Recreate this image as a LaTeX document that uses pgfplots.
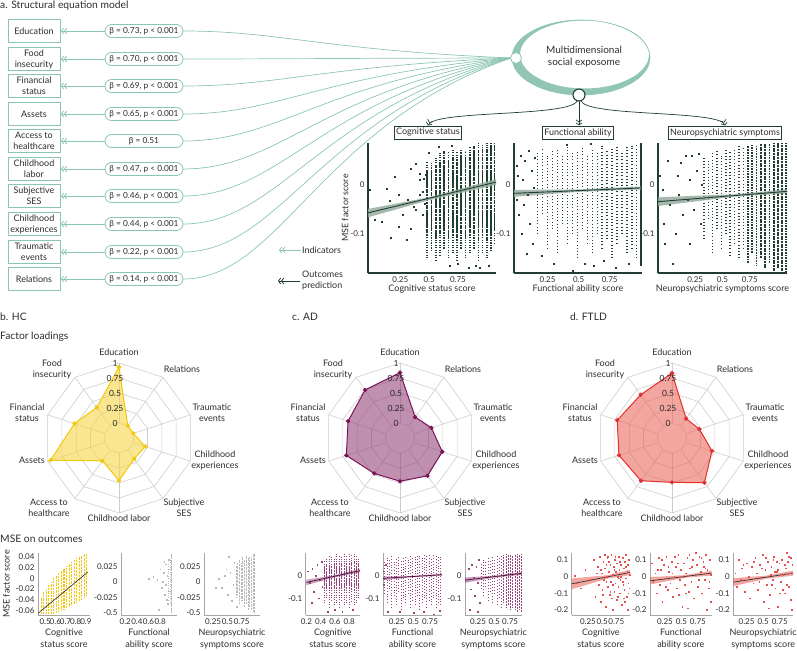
\documentclass[border=0pt]{standalone}
\usepackage{fontspec}
\setmainfont{Lato}
\usepackage{pgfplots}
\usepackage{pgfplotstable}
\pgfplotsset{compat=1.18}
\usetikzlibrary{arrows.meta}

\definecolor{semteal}{RGB}{140,198,178}
\definecolor{semfill}{RGB}{146,198,180}
\definecolor{dkg}{RGB}{32,62,48}
\definecolor{bandg}{RGB}{150,172,160}
\definecolor{txt}{RGB}{45,45,45}
\definecolor{gridg}{RGB}{205,205,205}
\definecolor{hcy}{RGB}{243,200,10}
\definecolor{hcfill}{RGB}{246,214,70}
\definecolor{adp}{RGB}{125,20,90}
\definecolor{adfill}{RGB}{150,70,125}
\definecolor{ftr}{RGB}{228,48,44}
\definecolor{ftfill}{RGB}{235,105,95}
\definecolor{greypt}{RGB}{185,185,185}

\newcommand\ftick{\fontsize{8}{9}\selectfont}
\newcommand\flab{\fontsize{9}{11}\selectfont}
\newcommand\fbeta{\fontsize{8.3}{10}\selectfont}
\newcommand\ftitle{\fontsize{10.3}{12}\selectfont}

\tikzset{dchev/.style={-{Straight Barb[length=2.2pt,width=6pt] Straight Barb[length=2.2pt,width=6pt]}}}

\pgfplotsset{
  sc/.style={scale only axis, clip=false, anchor=south west, axis lines=left,
    axis line style={-}, tick style={draw=none}, major tick length=0pt,
    ticklabel style={font=\ftick, text=txt}, label style={font=\flab, text=txt},
    scaled ticks=false},
  sm/.style={sc, height=62pt, axis line style={-, draw=gray!70, line width=0.6pt},
    xlabel style={align=center, yshift=2pt, font=\fontsize{9}{11.5}\selectfont}},
  big/.style={sc, height=130pt, ymin=-0.18, ymax=0.086,
    axis line style={-, draw=dkg, line width=1.1pt},
    xtick={0.25,0.5,0.75}, xticklabels={0.25,0.5,0.75},
    ytick={-0.1,0}, yticklabels={-0.1,0}, xlabel style={yshift=4pt}},
  rad/.style={hide axis, scale only axis, width=156pt, height=156pt, xmin=-1.3, xmax=1.3,
    ymin=-1.3, ymax=1.3, anchor=center, clip=false},
  colsty/.style n args={3}{draw=none, mark=none, forget plot, error bars/.cd,
    y dir=plus, y explicit, error mark=none,
    error bar style={draw=#1, line width=#2, dash pattern=#3}},
}

\begin{document}

% ---------- panel a: scatter data ----------
\pgfplotstableread{
x lo hi clo chi
0.483 -0.150 0.048 -0.105 0.030
0.520 -0.135 0.045 -0.095 0.028
0.557 -0.155 0.055 -0.110 0.040
0.594 -0.145 0.065 -0.100 0.048
0.631 -0.130 0.070 -0.098 0.052
0.668 -0.150 0.068 -0.110 0.050
0.705 -0.140 0.072 -0.105 0.055
0.742 -0.155 0.070 -0.112 0.058
0.779 -0.130 0.074 -0.100 0.060
0.816 -0.150 0.070 -0.110 0.058
0.853 -0.140 0.078 -0.105 0.065
0.890 -0.130 0.080 -0.100 0.070
0.927 -0.155 0.086 -0.115 0.072
0.964 -0.140 0.084 -0.105 0.075
1.000 -0.150 0.086 -0.115 0.078
1.035 -0.135 0.086 -0.105 0.080
1.068 -0.120 0.086 -0.095 0.082
}\colAa
\pgfplotstableread{
x y
-0.013 -0.010
0.024 -0.071
0.088 -0.075
0.131 -0.007
0.160 -0.033
0.169 -0.108
0.203 0.017
0.240 -0.019
0.238 -0.085
0.275 -0.061
0.304 -0.112
0.313 -0.031
0.342 0.034
0.342 -0.090
0.362 -0.044
0.385 0.044
0.414 0.024
0.414 -0.020
0.414 0.010
0.385 -0.051
0.448 -0.014
0.448 -0.060
0.455 0.012
0.462 -0.038
0.470 0.022
0.612 -0.179
0.680 -0.165
0.750 -0.160
0.900 -0.165
0.940 -0.170
1.020 -0.165
0.580 0.078
0.700 0.080
0.500 0.066
0.840 -0.170
}\ptAa

\pgfplotstableread{
x lo hi
0.17 -0.100 0.070
0.21 -0.060 0.075
0.25 -0.130 0.060
0.29 -0.090 0.070
0.33 -0.140 0.075
0.37 -0.080 0.060
0.41 -0.120 0.078
0.45 -0.100 0.065
0.49 -0.150 0.070
0.53 -0.090 0.080
0.57 -0.120 0.060
0.61 -0.140 0.075
0.65 -0.100 0.070
0.69 -0.130 0.080
0.73 -0.110 0.070
0.77 -0.150 0.075
0.81 -0.120 0.080
0.85 -0.100 0.070
0.89 -0.140 0.082
0.93 -0.130 0.080
0.965 -0.150 0.083
}\colAb
\pgfplotstableread{
x y
0.00 0.040
0.00 -0.030
0.01 0.020
0.02 -0.060
0.03 0.060
0.04 -0.100
0.05 0.010
0.06 -0.040
0.07 0.050
0.08 -0.140
0.09 -0.020
0.10 0.070
0.11 -0.080
0.12 0.030
0.13 -0.120
0.14 -0.005
0.15 0.055
0.30 -0.160
0.45 -0.175
0.62 -0.165
0.70 -0.155
0.80 -0.170
0.90 -0.160
0.20 -0.145
0.55 -0.160
0.40 0.082
0.60 0.084
}\ptAb

\pgfplotstableread{
x lo hi
0.33 -0.110 0.060
0.37 -0.070 0.050
0.41 -0.140 0.065
0.45 -0.090 0.070
0.49 -0.130 0.060
0.53 -0.100 0.075
0.57 -0.145 0.070
0.61 -0.120 0.075
0.65 -0.150 0.080
0.69 -0.130 0.075
}\colAc
\pgfplotstableread{
x lo hi
0.73 -0.160 0.080
0.77 -0.140 0.082
0.81 -0.165 0.080
0.85 -0.150 0.085
0.89 -0.170 0.084
0.93 -0.160 0.085
0.97 -0.175 0.086
1.01 -0.170 0.086
1.045 -0.175 0.086
1.08 -0.178 0.086
}\colAcd
\pgfplotstableread{
x y
-0.07 0.020
-0.05 -0.010
-0.04 -0.080
-0.03 -0.120
0.00 0.050
0.02 -0.040
0.04 -0.160
0.07 -0.100
0.09 0.020
0.10 -0.020
0.12 0.045
0.14 -0.060
0.16 0.060
0.18 -0.030
0.20 -0.120
0.22 0.060
0.24 -0.050
0.26 0.030
0.28 0.065
0.30 -0.080
0.31 0.000
0.20 0.010
}\ptAc

% ---------- radar data ----------
\pgfplotstableread{
a v
90 0.93
54 0.00
18 0.00
-18 0.21
-54 0.18
-90 0.46
-126 0.22
-162 0.95
162 0.53
126 0.38
90 0.93
}\radHC
\pgfplotstableread{
a v
90 0.84
54 0.18
18 0.30
-18 0.49
-54 0.53
-90 0.47
-126 0.48
-162 0.69
162 0.66
126 0.74
90 0.84
}\radAD
\pgfplotstableread{
a v
90 0.83
54 0.15
18 0.23
-18 0.45
-54 0.67
-90 0.49
-126 0.63
-162 0.68
162 0.71
126 0.64
90 0.83
}\radFT

% ---------- bottom row data ----------
\pgfplotstableread{
x lo hi
0.460 -0.066 -0.035
0.485 -0.066 -0.025
0.510 -0.066 -0.020
0.535 -0.066 -0.012
0.560 -0.066 -0.006
0.585 -0.066 0.000
0.610 -0.064 0.005
0.635 -0.062 0.010
0.660 -0.060 0.014
0.685 -0.058 0.018
0.710 -0.055 0.022
0.735 -0.052 0.026
0.760 -0.050 0.030
0.785 -0.048 0.034
0.810 -0.045 0.037
0.835 -0.042 0.040
0.860 -0.040 0.043
0.885 -0.036 0.045
0.910 -0.032 0.046
}\colHa
\pgfplotstableread{
x y
0.68 0.008
0.75 0.004
0.80 0.020
0.82 -0.010
0.85 0.000
0.86 0.015
0.88 -0.020
0.90 0.028
0.90 -0.005
0.92 0.010
0.93 -0.035
0.95 0.035
0.95 -0.015
0.78 -0.045
0.60 0.005
0.96 0.020
0.87 0.032
0.91 -0.028
}\ptHb
\pgfplotstableread{
x lo hi
0.98 -0.050 0.045
0.95 -0.048 0.044
0.92 -0.045 0.040
0.89 -0.040 0.040
0.86 -0.045 0.038
0.83 -0.035 0.042
0.80 -0.040 0.035
0.77 -0.030 0.040
0.74 -0.030 0.030
0.71 -0.035 0.035
0.68 -0.020 0.030
0.65 -0.025 0.025
}\colHc
\pgfplotstableread{
x y
0.35 0.005
0.40 -0.010
0.45 0.010
0.50 -0.020
0.55 0.015
0.60 -0.005
0.62 0.030
0.58 -0.030
0.48 0.020
0.30 -0.010
0.52 0.040
0.66 -0.040
}\ptHc

\pgfplotstableread{
x lo hi clo chi
0.450 -0.120 0.070 -0.060 0.045
0.485 -0.100 0.080 -0.055 0.050
0.520 -0.140 0.085 -0.065 0.048
0.555 -0.110 0.090 -0.060 0.052
0.590 -0.130 0.080 -0.058 0.050
0.625 -0.120 0.095 -0.065 0.055
0.660 -0.140 0.090 -0.060 0.050
0.695 -0.110 0.085 -0.055 0.055
0.730 -0.130 0.095 -0.062 0.058
0.765 -0.120 0.090 -0.060 0.055
0.800 -0.140 0.095 -0.065 0.058
0.835 -0.115 0.090 -0.058 0.055
0.870 -0.130 0.095 -0.062 0.060
0.905 -0.120 0.090 -0.060 0.058
0.935 -0.100 0.080 -0.055 0.055
}\colDa
\pgfplotstableread{
x y
0.25 -0.030
0.28 0.030
0.30 -0.070
0.33 0.000
0.35 0.050
0.37 -0.100
0.39 -0.020
0.41 0.060
0.42 -0.050
0.27 -0.120
0.22 0.020
0.60 -0.150
0.70 -0.160
0.85 -0.150
0.50 -0.160
}\ptDa
\pgfplotstableread{
x lo hi
0.070 -0.080 0.060
0.105 -0.120 0.080
0.140 -0.060 0.070
0.175 -0.140 0.090
0.210 -0.090 0.060
0.245 -0.130 0.080
0.280 -0.070 0.090
0.315 -0.150 0.070
0.350 -0.100 0.085
0.385 -0.120 0.090
0.420 -0.080 0.070
0.455 -0.140 0.090
0.490 -0.110 0.080
0.525 -0.130 0.090
0.560 -0.090 0.085
0.595 -0.150 0.090
0.630 -0.120 0.080
0.665 -0.100 0.090
0.700 -0.140 0.085
0.735 -0.110 0.090
0.770 -0.130 0.080
0.805 -0.100 0.090
0.840 -0.140 0.085
0.875 -0.120 0.090
0.910 -0.130 0.090
}\colDb
\pgfplotstableread{
x y
0.05 0.020
0.06 -0.040
0.09 0.050
0.12 -0.160
0.30 -0.160
0.50 -0.165
0.65 -0.160
0.80 -0.170
0.90 -0.155
}\ptDb
\pgfplotstableread{
x lo hi
0.300 -0.060 0.050
0.335 -0.090 0.070
0.370 -0.050 0.060
0.405 -0.110 0.080
0.440 -0.070 0.065
0.475 -0.120 0.085
0.510 -0.080 0.070
0.545 -0.130 0.090
0.580 -0.100 0.080
0.615 -0.140 0.090
}\colDc
\pgfplotstableread{
x lo hi
0.650 -0.120 0.090
0.685 -0.140 0.095
0.720 -0.130 0.090
0.755 -0.150 0.095
0.790 -0.140 0.090
0.825 -0.150 0.095
0.860 -0.160 0.095
0.895 -0.150 0.090
0.925 -0.160 0.095
}\colDcd
\pgfplotstableread{
x y
0.08 -0.020
0.10 0.030
0.13 -0.060
0.15 0.050
0.18 -0.010
0.20 -0.090
0.22 0.040
0.24 -0.030
0.26 0.070
0.28 -0.120
0.12 -0.150
0.25 -0.160
}\ptDc

\pgfplotstableread{
x y
0.02 0.005
0.05 -0.040
0.12 -0.070
0.20 0.040
0.30 -0.020
0.35 0.100
0.38 -0.120
0.42 0.060
0.44 -0.050
0.46 0.120
0.47 -0.150
0.49 0.020
0.50 -0.080
0.52 0.090
0.53 -0.020
0.55 0.050
0.56 -0.180
0.58 0.000
0.59 0.110
0.60 -0.060
0.61 0.030
0.63 -0.110
0.64 0.070
0.65 -0.030
0.66 0.130
0.68 -0.200
0.69 0.010
0.70 0.060
0.71 -0.090
0.72 0.100
0.73 -0.040
0.74 0.030
0.75 -0.140
0.76 0.080
0.77 0.000
0.78 -0.060
0.79 0.120
0.80 0.040
0.81 -0.100
0.82 -0.020
0.83 0.070
0.84 -0.170
0.85 0.020
0.86 0.110
0.87 -0.050
0.88 0.050
0.89 -0.080
0.90 0.090
0.91 -0.010
0.92 0.130
0.93 -0.120
0.94 0.030
0.95 0.070
0.96 -0.040
0.97 0.100
0.975 -0.070
0.98 0.010
0.62 0.090
0.67 -0.130
0.54 0.130
0.57 -0.030
0.73 0.120
0.83 0.000
0.90 -0.150
0.95 -0.200
0.48 0.040
0.51 -0.110
0.57 0.070
0.64 -0.090
0.71 0.040
0.77 -0.120
0.81 0.090
0.86 -0.030
0.92 0.060
0.96 -0.100
0.60 0.120
0.69 -0.050
0.79 -0.010
0.88 -0.130
0.40 0.020
}\ptFa
\pgfplotstableread{
x y
0.05 0.080
0.07 -0.030
0.10 0.020
0.12 -0.100
0.15 0.110
0.17 -0.050
0.19 0.040
0.21 -0.150
0.23 0.070
0.25 -0.010
0.27 0.120
0.29 -0.080
0.31 0.030
0.33 -0.040
0.35 0.090
0.37 -0.120
0.39 0.000
0.41 0.060
0.43 -0.070
0.45 0.130
0.47 -0.020
0.49 0.040
0.51 -0.180
0.53 0.080
0.55 -0.050
0.57 0.020
0.59 0.110
0.61 -0.090
0.63 0.050
0.65 -0.030
0.67 0.100
0.69 -0.130
0.71 0.010
0.73 0.070
0.75 -0.060
0.77 0.120
0.79 0.030
0.81 -0.100
0.83 0.090
0.85 -0.020
0.87 0.130
0.89 0.040
0.91 -0.070
0.93 0.100
0.95 0.010
0.94 -0.150
0.88 -0.200
0.60 -0.190
0.40 0.120
0.30 0.060
0.72 0.140
0.52 0.000
0.84 0.060
0.20 0.100
0.62 0.130
0.46 -0.110
0.14 0.040
0.26 -0.060
0.36 0.020
0.44 0.080
0.56 -0.100
0.66 0.060
0.76 -0.020
0.86 0.050
0.92 -0.030
0.80 0.110
}\ptFb
\pgfplotstableread{
x y
0.08 0.020
0.10 -0.060
0.13 0.100
0.16 -0.020
0.18 0.050
0.22 -0.090
0.25 0.080
0.28 0.000
0.30 -0.130
0.33 0.060
0.35 -0.040
0.38 0.110
0.40 0.020
0.42 -0.080
0.45 0.070
0.47 -0.010
0.49 0.130
0.51 -0.150
0.53 0.040
0.55 -0.050
0.57 0.090
0.59 0.000
0.60 -0.110
0.62 0.060
0.64 -0.020
0.66 0.120
0.68 -0.070
0.70 0.030
0.72 -0.180
0.74 0.080
0.76 -0.030
0.78 0.100
0.80 0.010
0.82 -0.100
0.84 0.050
0.86 -0.050
0.88 0.120
0.90 0.020
0.92 -0.140
0.94 0.070
0.93 -0.200
0.85 0.140
0.65 0.100
0.58 -0.190
0.48 0.050
0.36 0.090
0.72 0.040
0.79 -0.080
0.87 0.090
0.63 -0.050
0.20 0.070
0.91 0.110
0.44 -0.030
0.54 0.110
0.67 0.030
0.75 -0.100
0.83 0.070
0.89 -0.060
0.70 0.090
0.61 0.010
}\ptFc

\begin{tikzpicture}[x=1pt,y=1pt]
\useasboundingbox (0pt,0pt) rectangle (797pt,-650pt);

% ---------- titles ----------
\begin{scope}[every node/.style={anchor=west, inner sep=0pt, font=\ftitle, text=txt}]
\node at (0,-6) {a. Structural equation model};
\node at (0,-317) {b. HC};
\node at (292,-317) {c. AD};
\node at (570,-317) {d. FTLD};
\node at (0,-337) {Factor loadings};
\node at (0,-539) {MSE on outcomes};
\end{scope}

% ---------- SEM ----------
\foreach \y/\lab/\bt in {31/Education/{β = 0.73, p < 0.001},
    59/{Food\\insecurity}/{β = 0.70, p < 0.001},
    86/{Financial\\status}/{β = 0.69, p < 0.001},
    114/Assets/{β = 0.65, p < 0.001},
    141/{Access to\\healthcare}/{β = 0.51},
    169/{Childhood\\labor}/{β = 0.47, p < 0.001},
    196/{Subjective\\SES}/{β = 0.46, p < 0.001},
    224/{Childhood\\experiences}/{β = 0.44, p < 0.001},
    252/{Traumatic\\events}/{β = 0.22, p < 0.001},
    279/Relations/{β = 0.14, p < 0.001}}{
  \draw[semteal, line width=0.7pt] (183,-\y) .. controls (280,-\y) and (320,{-(58+(\y-58)*0.3)}) .. (511,-58);
  \draw[semteal, line width=0.8pt] (8,{-\y+11.5}) rectangle (60,{-\y-11.5});
  \node[align=center, font=\flab, text=txt, inner sep=0pt] at (34,-\y) {\lab};
  \draw[semteal, line width=0.8pt, dchev] (105,-\y) -- (61,-\y);
  \node[draw=semteal, fill=white, line width=0.8pt, rounded corners=6.5pt, minimum width=78pt,
        minimum height=13pt, inner sep=0pt, font=\fbeta, text=txt] at (144,-\y) {\bt};
}

\fill[semfill, even odd rule] (581,-57.5) ellipse [x radius=69pt, y radius=37.5pt]
  (584.5,-54.5) ellipse [x radius=64.5pt, y radius=34pt];
\draw[semteal, line width=0.6pt] (581,-57.5) ellipse [x radius=69pt, y radius=37.5pt];
\node[align=center, font=\fontsize{10}{12}\selectfont, text=txt] at (584,-57) {Multidimensional\\social exposome};
\draw[semteal, fill=white, line width=0.8pt] (516,-58) circle [radius=5.5pt];

\draw[dkg, line width=0.7pt, dchev] (577,-101) .. controls (570,-117) and (435,-110) .. (428,-125.5);
\draw[dkg, line width=0.7pt, dchev] (579,-101) -- (579,-125.5);
\draw[dkg, line width=0.7pt, dchev] (581,-101) .. controls (588,-117) and (720,-110) .. (725,-125.5);
\draw[dkg, fill=white, line width=1.1pt] (579,-95) circle [radius=6pt];

\begin{scope}[every node/.style={draw=dkg, line width=0.8pt, inner sep=1.5pt, minimum height=13pt, font=\flab, text=txt}]
\node at (428,-132.5) {Cognitive status};
\node at (578,-132.5) {Functional ability};
\node at (725,-132.5) {Neuropsychiatric symptoms};
\end{scope}

\draw[semteal, line width=0.8pt, dchev] (301,-250) -- (279,-250);
\node[anchor=west, font=\flab, text=txt, inner sep=0pt] at (302,-250) {Indicators};
\draw[dkg, line width=0.8pt, dchev] (300,-281) -- (278,-281);
\node[anchor=west, align=left, font=\flab, text=txt, inner sep=0pt] at (302,-281) {Outcomes\\prediction};

% ---------- panel a scatter ----------
\begin{axis}[big, at={(368pt,-273pt)}, width=128pt, xmin=-0.03, xmax=1.08,
  xlabel={Cognitive status score}, ylabel={MSE factor score}, ylabel style={yshift=-5pt}]
\addplot[colsty={dkg}{1.7pt}{on 1.1pt off 1.4pt}] table[x=x, y=lo, y error plus expr={\thisrow{hi}-\thisrow{lo}}] {\colAa};
\addplot[colsty={dkg}{1.7pt}{on 1.2pt off 0.4pt}] table[x=x, y=clo, y error plus expr={\thisrow{chi}-\thisrow{clo}}] {\colAa};
\addplot[only marks, mark=square*, mark size=0.5pt, dkg] table {\ptAa};
\addplot[fill=bandg, draw=none, fill opacity=0.85] coordinates {(-0.03,-0.066) (0.5,-0.031) (1.08,0.0) (1.08,0.012) (0.5,-0.025) (-0.03,-0.049)} -- cycle;
\addplot[dkg, line width=0.9pt] coordinates {(-0.03,-0.057) (1.08,0.006)};
\end{axis}

\begin{axis}[big, at={(514pt,-273pt)}, width=128pt, xmin=-0.02, xmax=1.01,
  xlabel={Functional ability score}]
\addplot[colsty={dkg}{1.5pt}{on 1pt off 2.2pt}] table[x=x, y=lo, y error plus expr={\thisrow{hi}-\thisrow{lo}}] {\colAb};
\addplot[colsty={dkg}{1.8pt}{on 1.2pt off 0.3pt}] coordinates {(1.0,-0.165) +- (0,0.25)};
\addplot[only marks, mark=square*, mark size=0.5pt, dkg] table {\ptAb};
\addplot[fill=bandg, draw=none, fill opacity=0.85] coordinates {(-0.02,-0.024) (0.5,-0.014) (1.0,-0.009) (1.0,-0.003) (0.5,-0.009) (-0.02,-0.010)} -- cycle;
\addplot[dkg, line width=0.9pt] coordinates {(-0.02,-0.017) (1.0,-0.006)};
\end{axis}

\begin{axis}[big, at={(658pt,-273pt)}, width=129pt, xmin=-0.09, xmax=1.09,
  xlabel={Neuropsychiatric symptoms score}]
\addplot[colsty={dkg}{1.5pt}{on 1pt off 2.2pt}] table[x=x, y=lo, y error plus expr={\thisrow{hi}-\thisrow{lo}}] {\colAc};
\addplot[colsty={dkg}{1.7pt}{on 1.1pt off 0.5pt}] table[x=x, y=lo, y error plus expr={\thisrow{hi}-\thisrow{lo}}] {\colAcd};
\addplot[only marks, mark=square*, mark size=0.5pt, dkg] table {\ptAc};
\addplot[fill=bandg, draw=none, fill opacity=0.85] coordinates {(-0.09,-0.043) (0.6,-0.024) (1.09,-0.017) (1.09,-0.009) (0.6,-0.019) (-0.09,-0.025)} -- cycle;
\addplot[dkg, line width=0.9pt] coordinates {(-0.09,-0.034) (1.09,-0.013)};
\end{axis}

% ---------- radar grids ----------
\foreach \cx in {119,400,672}{
  \foreach \r in {15,30,45,60,75}{
    \draw[gridg, line width=0.6pt, shift={(\cx,-438)}] (90:\r) -- (54:\r) -- (18:\r) -- (-18:\r) -- (-54:\r)
      -- (-90:\r) -- (-126:\r) -- (-162:\r) -- (162:\r) -- (126:\r) -- cycle;
  }
  \foreach \a in {90,54,18,-18,-54,-90,-126,-162,162,126}{
    \draw[gridg, line width=0.6pt, shift={(\cx,-438)}] (\a:15) -- (\a:75);
  }
}

\begin{axis}[rad, at={(119pt,-438pt)}]
\addplot[draw=hcy, line width=1pt, fill=hcfill, fill opacity=0.6, mark=*, mark size=1.6pt,
  mark options={fill opacity=1, fill=hcy, draw=hcy}]
  table[x expr={(\thisrow{v}+0.25)*cos(\thisrow{a})}, y expr={(\thisrow{v}+0.25)*sin(\thisrow{a})}] {\radHC};
\end{axis}
\begin{axis}[rad, at={(400pt,-438pt)}]
\addplot[draw=adp, line width=1pt, fill=adfill, fill opacity=0.6, mark=*, mark size=1.6pt,
  mark options={fill opacity=1, fill=adp, draw=adp}]
  table[x expr={(\thisrow{v}+0.25)*cos(\thisrow{a})}, y expr={(\thisrow{v}+0.25)*sin(\thisrow{a})}] {\radAD};
\end{axis}
\begin{axis}[rad, at={(672pt,-438pt)}]
\addplot[draw=ftr, line width=1pt, fill=ftfill, fill opacity=0.6, mark=*, mark size=1.6pt,
  mark options={fill opacity=1, fill=ftr, draw=ftr}]
  table[x expr={(\thisrow{v}+0.25)*cos(\thisrow{a})}, y expr={(\thisrow{v}+0.25)*sin(\thisrow{a})}] {\radFT};
\end{axis}

\foreach \cx in {119,400,672}{
  \foreach \r/\t in {15/0,30/0.25,45/0.5,60/0.75,75/1}{
    \node[font=\fontsize{8.5}{10}\selectfont, text=txt, inner sep=0pt] at (\cx-4,{-438+\r}) {\t};
  }
  \begin{scope}[every node/.style={align=center, font=\flab, text=txt, inner sep=0pt}]
  \node at (\cx,-352) {Education};
  \node at (\cx+63,-369) {Relations};
  \node at (\cx+93,-413) {Traumatic\\events};
  \node at (\cx+96,-460) {Childhood\\experiences};
  \node at (\cx+65,-508) {Subjective\\SES};
  \node at (\cx,-518) {Childhood labor};
  \node at (\cx-70,-508) {Access to\\healthcare};
  \node at (\cx-87,-460) {Assets};
  \node at (\cx-92,-413) {Financial\\status};
  \node at (\cx-67,-369) {Food\\insecurity};
  \end{scope}
}

% ---------- bottom: HC ----------
\begin{axis}[sm, at={(38pt,-615pt)}, width=52pt, xmin=0.43, xmax=0.94, ymin=-0.068, ymax=0.047,
  xtick={0.5,0.6,0.7,0.8,0.9}, xticklabels={0.5,0.6,0.7,0.8,0.9},
  ytick={-0.06,-0.04,-0.02,0,0.02,0.04}, yticklabels={-0.06,-0.04,-0.02,0,0.02,0.04},
  xlabel={Cognitive\\status score}, ylabel={MSE factor score}, ylabel style={yshift=-1pt}]
\addplot[colsty={hcy}{1.1pt}{on 0.9pt off 0.5pt}] table[x=x, y=lo, y error plus expr={\thisrow{hi}-\thisrow{lo}}] {\colHa};
\addplot[black!85, line width=0.6pt] coordinates {(0.43,-0.065) (0.92,0.012)};
\end{axis}

\begin{axis}[sm, at={(121pt,-615pt)}, width=56pt, xmin=0.126, xmax=1.09, ymin=-0.053, ymax=0.046,
  xtick={0.2,0.4,0.6,0.8}, xticklabels={0.2,0.4,0.6,0.8},
  ytick={-0.05,-0.025,0,0.025}, yticklabels={-0.5,-0.025,0,0.025},
  xlabel={Functional\\ability score}]
\addplot[colsty={greypt}{1.1pt}{on 0.8pt off 0.4pt}] coordinates {(1.0,-0.05) +- (0,0.095)};
\addplot[colsty={greypt}{0.9pt}{on 0.8pt off 1.6pt}] coordinates {(0.97,-0.035) +- (0,0.07) (0.94,-0.03) +- (0,0.06)};
\addplot[only marks, mark=square*, mark size=0.4pt, greypt] table {\ptHb};
\end{axis}

\begin{axis}[sm, at={(204pt,-615pt)}, width=56pt, xmin=0.09, xmax=1.07, ymin=-0.053, ymax=0.046,
  xtick={0.25,0.5,0.75}, xticklabels={0.25,0.5,0.75},
  ytick={-0.05,-0.025,0,0.025}, yticklabels={-0.5,-0.025,0,0.025},
  xlabel={Neuropsychiatric\\symptoms score}]
\addplot[colsty={greypt}{0.9pt}{on 0.8pt off 0.6pt}] table[x=x, y=lo, y error plus expr={\thisrow{hi}-\thisrow{lo}}] {\colHc};
\addplot[only marks, mark=square*, mark size=0.4pt, greypt] table {\ptHc};
\end{axis}

% ---------- bottom: AD ----------
\begin{axis}[sm, at={(305.7pt,-615pt)}, width=54.3pt, xmin=0.19, xmax=0.95, ymin=-0.174, ymax=0.1,
  xtick={0.2,0.4,0.6,0.8}, xticklabels={0.2,0.4,0.6,0.8},
  ytick={-0.1,0}, yticklabels={-0.1,0}, xlabel={Cognitive\\status score}]
\addplot[colsty={adp!80}{0.9pt}{on 0.8pt off 1.6pt}] table[x=x, y=lo, y error plus expr={\thisrow{hi}-\thisrow{lo}}] {\colDa};
\addplot[colsty={adp!80}{0.9pt}{on 0.8pt off 0.7pt}] table[x=x, y=clo, y error plus expr={\thisrow{chi}-\thisrow{clo}}] {\colDa};
\addplot[only marks, mark=square*, mark size=0.4pt, adp!80] table {\ptDa};
\addplot[fill=adfill, draw=none, fill opacity=0.5] coordinates {(0.2,-0.042) (0.6,-0.007) (0.95,0.014) (0.95,0.03) (0.6,0.002) (0.2,-0.018)} -- cycle;
\addplot[adp!60!black, line width=0.7pt] coordinates {(0.2,-0.03) (0.95,0.022)};
\end{axis}

\begin{axis}[sm, at={(383pt,-615pt)}, width=59pt, xmin=0.045, xmax=0.93, ymin=-0.174, ymax=0.1,
  xtick={0.25,0.5,0.75}, xticklabels={0.25,0.5,0.75},
  ytick={-0.1,0}, yticklabels={-0.1,0}, xlabel={Functional\\ability score}]
\addplot[colsty={adp!80}{0.9pt}{on 0.8pt off 2pt}] table[x=x, y=lo, y error plus expr={\thisrow{hi}-\thisrow{lo}}] {\colDb};
\addplot[only marks, mark=square*, mark size=0.4pt, adp!80] table {\ptDb};
\addplot[fill=adfill, draw=none, fill opacity=0.5] coordinates {(0.045,-0.020) (0.5,-0.0068) (0.93,-0.001) (0.93,0.009) (0.5,-0.0008) (0.045,-0.004)} -- cycle;
\addplot[adp!60!black, line width=0.7pt] coordinates {(0.045,-0.012) (0.93,0.004)};
\end{axis}

\begin{axis}[sm, at={(465pt,-615pt)}, width=56.7pt, xmin=0.047, xmax=0.93, ymin=-0.174, ymax=0.1,
  xtick={0.25,0.5,0.75}, xticklabels={0.25,0.5,0.75},
  ytick={-0.1,0}, yticklabels={-0.1,0}, xlabel={Neuropsychiatric\\symptoms score}]
\addplot[colsty={adp!80}{0.9pt}{on 0.8pt off 2.2pt}] table[x=x, y=lo, y error plus expr={\thisrow{hi}-\thisrow{lo}}] {\colDc};
\addplot[colsty={adp!80}{0.9pt}{on 0.8pt off 0.7pt}] table[x=x, y=lo, y error plus expr={\thisrow{hi}-\thisrow{lo}}] {\colDcd};
\addplot[only marks, mark=square*, mark size=0.4pt, adp!80] table {\ptDc};
\addplot[fill=adfill, draw=none, fill opacity=0.5] coordinates {(0.047,-0.032) (0.5,-0.009) (0.93,0.004) (0.93,0.016) (0.5,-0.0002) (0.047,-0.008)} -- cycle;
\addplot[adp!60!black, line width=0.7pt] coordinates {(0.047,-0.02) (0.93,0.01)};
\end{axis}

% ---------- bottom: FTLD ----------
\begin{axis}[sm, at={(571.7pt,-615pt)}, width=58.3pt, xmin=-0.035, xmax=0.99, ymin=-0.23, ymax=0.14,
  xtick={0.25,0.5,0.75}, xticklabels={0.25,0.5,0.75},
  ytick={-0.2,-0.1,0,0.1}, yticklabels={-0.2,-0.1,0,0.1}, xlabel={Cognitive\\status score}]
\addplot[fill=ftfill, draw=none, fill opacity=0.6] coordinates {(-0.035,-0.076) (0.6,-0.012) (0.99,0.008) (0.99,0.04) (0.6,0.008) (-0.035,-0.012)} -- cycle;
\addplot[only marks, mark=square*, mark size=0.35pt, ftr!85] table {\ptFa};
\addplot[black!80, line width=0.7pt] coordinates {(-0.035,-0.044) (0.99,0.024)};
\end{axis}

\begin{axis}[sm, at={(650pt,-615pt)}, width=61.7pt, xmin=0.023, xmax=0.96, ymin=-0.23, ymax=0.14,
  xtick={0.25,0.5,0.75}, xticklabels={0.25,0.5,0.75},
  ytick={-0.2,-0.1,0,0.1}, yticklabels={-0.2,-0.1,0,0.1}, xlabel={Functional\\ability score}]
\addplot[fill=ftfill, draw=none, fill opacity=0.6] coordinates {(0.023,-0.048) (0.55,-0.008) (0.96,0.006) (0.96,0.034) (0.55,0.008) (0.023,-0.004)} -- cycle;
\addplot[only marks, mark=square*, mark size=0.35pt, ftr!85] table {\ptFb};
\addplot[black!80, line width=0.7pt] coordinates {(0.023,-0.026) (0.96,0.02)};
\end{axis}

\begin{axis}[sm, at={(733.3pt,-615pt)}, width=59.7pt, xmin=0.05, xmax=0.95, ymin=-0.23, ymax=0.14,
  xtick={0.25,0.5,0.75}, xticklabels={0.25,0.5,0.75},
  ytick={-0.2,-0.1,0,0.1}, yticklabels={-0.2,-0.1,0,0.1}, xlabel={Neuropsychiatric\\symptoms score}]
\addplot[fill=ftfill, draw=none, fill opacity=0.6] coordinates {(0.05,-0.058) (0.55,-0.013) (0.95,0.005) (0.95,0.035) (0.55,0.005) (0.05,-0.010)} -- cycle;
\addplot[only marks, mark=square*, mark size=0.35pt, ftr!85] table {\ptFc};
\addplot[black!80, line width=0.7pt] coordinates {(0.05,-0.034) (0.95,0.02)};
\end{axis}

\end{tikzpicture}
\end{document}
